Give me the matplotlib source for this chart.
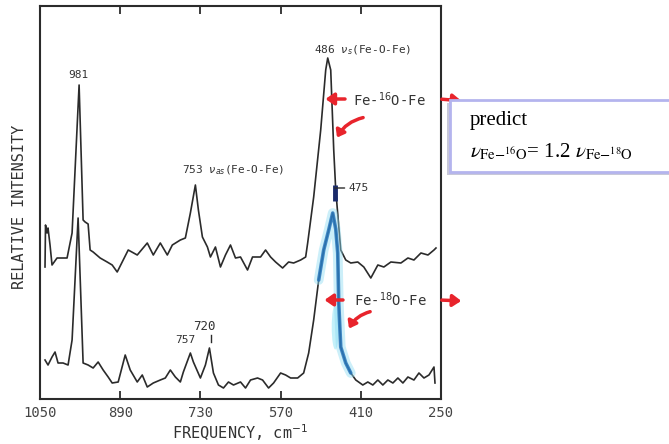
import matplotlib
matplotlib.use('Agg')
import matplotlib.pyplot as plt
from matplotlib.patches import Rectangle, Ellipse

# upper trace (Fe-16O-Fe), frequency in cm-1, intensity in arbitrary units
upper_freq = [1040, 1039, 1036, 1034, 1030, 1026, 1016, 996, 986, 972, 964, 960, 954, 950,
              944, 930, 916, 906, 896, 886, 874, 856, 836, 824, 810, 796, 786, 770, 760,
              750, 740, 734, 726, 716, 710, 700, 690, 680, 670, 660, 650, 636, 626, 610,
              600, 590, 580, 566, 554, 544, 530, 520, 516, 504, 490, 480, 476, 470, 464,
              460, 450, 440, 430, 416, 404, 390, 376, 364, 350, 330, 316, 304, 290, 276,
              264, 260]
upper_int = [132, 174, 166, 171, 154, 134, 141, 141, 166, 314, 179, 177, 175, 149,
             147, 141, 137, 134, 127, 137, 149, 144, 156, 144, 156, 144, 154, 159, 161,
             186, 214, 189, 162, 152, 142, 152, 132, 144, 154, 141, 142, 129, 142, 142,
             149, 142, 137, 131, 137, 136, 139, 142, 156, 202, 269, 329, 341, 329, 249,
             209, 149, 139, 136, 137, 132, 121, 134, 132, 137, 136, 141, 139, 146, 144,
             149, 151]

# lower trace (Fe-18O-Fe)
lower_freq = [1040, 1034, 1026, 1020, 1014, 1004, 994, 986, 974, 964, 954, 944, 934, 924,
              914, 906, 894, 880, 870, 856, 846, 836, 824, 810, 800, 790, 780, 770, 764,
              750, 744, 730, 720, 712, 704, 694, 684, 674, 664, 650, 640, 630, 616, 606,
              594, 584, 570, 560, 550, 536, 524, 514, 504, 494, 484, 474, 466, 460, 456,
              454, 450, 440, 430, 420, 406, 396, 386, 376, 366, 356, 346, 336, 326, 316,
              304, 294, 284, 274, 264, 262]
lower_int = [39, 34, 42, 47, 36, 36, 34, 59, 181, 36, 34, 31, 37, 29,
             22, 16, 17, 44, 29, 17, 24, 12, 16, 19, 21, 29, 22, 17, 27,
             46, 37, 21, 34, 51, 26, 14, 11, 17, 14, 17, 11, 19, 21, 19,
             11, 16, 26, 24, 21, 21, 26, 46, 79, 119, 149, 169, 186, 170, 146,
             96, 52, 36, 26, 19, 14, 17, 14, 19, 14, 19, 16, 21, 16, 22,
             19, 26, 21, 24, 32, 16]

xticks = [1050, 890, 730, 570, 410, 250]

ink = '#2b2b2b'
red = '#e8242c'
mono = 'DejaVu Sans Mono'

fig = plt.figure(figsize=(6.69, 4.44), dpi=100)
ax = fig.add_axes([40 / 669, 1 - 399 / 444, 401 / 669, 393 / 444])

ax.plot(upper_freq, upper_int, color=ink, lw=1.2)
ax.plot(lower_freq, lower_int, color=ink, lw=1.2)

# blue highlight on the shifted peak
hl = [i for i, f in enumerate(lower_freq) if 425 <= f <= 500]
hf = [lower_freq[i] for i in hl]
hi = [lower_int[i] for i in hl]
ax.add_patch(Ellipse((461, 72), 14, 45, color='#9ee8f8', alpha=0.6, lw=0))
ax.plot(hf, hi, color='#8fdcf2', lw=7, alpha=0.45, solid_capstyle='round')
ax.plot(hf, hi, color='#1f6fb8', lw=2.6, alpha=0.8, solid_capstyle='round')

ax.set_xlim(1050, 250)
ax.set_ylim(0, 393)
ax.set_xticks(xticks)
ax.set_xticklabels([str(t) for t in xticks], family=mono, fontsize=10, color='#444')
ax.set_yticks([])
ax.tick_params(axis='x', direction='in', length=6, width=1.3, top=True, pad=5,
               colors=ink, labelcolor='#444')
for s in ax.spines.values():
    s.set_linewidth(1.5)
    s.set_color(ink)

# peak labels
lab = dict(family=mono, fontsize=8, color='#333')
ax.text(974, 324, '981', ha='center', va='center', **lab)
ax.text(504, 349, r'486 $\nu_s$(Fe-O-Fe)', ha='left', va='center', **lab)
ax.text(766, 229, r'753 $\nu_{as}$(Fe-O-Fe)', ha='left', va='center', **lab)
ax.text(780, 59, '757', ha='left', va='center', **lab)
ax.text(744, 73, '720', ha='left', va='center', **dict(lab, fontsize=9))
ax.plot([708, 708], [57, 64], color=ink, lw=1)
ax.annotate('475', xy=(462, 211), xytext=(434, 211), va='center', **lab,
            arrowprops=dict(arrowstyle='-', color=ink, lw=1, shrinkA=1, shrinkB=0))
ax.plot([461], [206], marker='|', ms=12, mew=3.5, color='#1a2a6a')

# isotope labels with red arrows
iso = dict(family=mono, fontsize=10, color='#333', va='center', ha='left')
ax.text(426, 299, r'Fe-$^{16}$O-Fe', **iso)
ax.text(424, 99, r'Fe-$^{18}$O-Fe', **iso)
arr = dict(arrowstyle='-|>,head_length=0.5,head_width=0.35', color=red, lw=2.5)
for tail, head in [((436, 300), (486, 300)), ((254, 300), (204, 298)),
                   ((440, 99), (488, 99)), ((254, 99), (204, 98))]:
    ax.annotate('', xy=head, xytext=tail, arrowprops=arr, annotation_clip=False)
zig = dict(arrowstyle='-|>,head_length=0.4,head_width=0.3', color=red, lw=2.5,
           connectionstyle='arc3,rad=0.25')
ax.annotate('', xy=(460, 259), xytext=(400, 282), arrowprops=zig)
ax.annotate('', xy=(436, 68), xytext=(386, 88), arrowprops=zig)

fig.text(20 / 669, 1 - 207 / 444, 'RELATIVE INTENSITY', rotation=90, ha='center',
         va='center', family=mono, fontsize=11, color='#333')
fig.text(240 / 669, 1 - 433 / 444, r'FREQUENCY, cm$^{-1}$', ha='center', va='center',
         family=mono, fontsize=11, color='#333')

# prediction box
bx, by, bw, bh = 450 / 669, 1 - 172 / 444, 0.4, 72 / 444
fig.patches.append(Rectangle((bx - 0.004, by - 0.007), bw, bh, transform=fig.transFigure,
                             facecolor='#c8c8d8', edgecolor='none', zorder=5))
fig.patches.append(Rectangle((bx, by), bw, bh, transform=fig.transFigure,
                             facecolor='white', edgecolor='#b4b4ee', lw=2, zorder=6))
fig.text(470 / 669, 1 - 121 / 444, 'predict', family='Liberation Serif', fontsize=15,
         va='center', ha='left', zorder=7)
fig.text(470 / 669, 1 - 152 / 444,
         r'$\nu_{\mathrm{Fe}{-}^{16}\mathrm{O}}$= 1.2 $\nu_{\mathrm{Fe}{-}^{18}\mathrm{O}}$',
         family='Liberation Serif', math_fontfamily='stix', fontsize=15,
         va='center', ha='left', zorder=7)

fig.savefig('out.png', dpi=100)
